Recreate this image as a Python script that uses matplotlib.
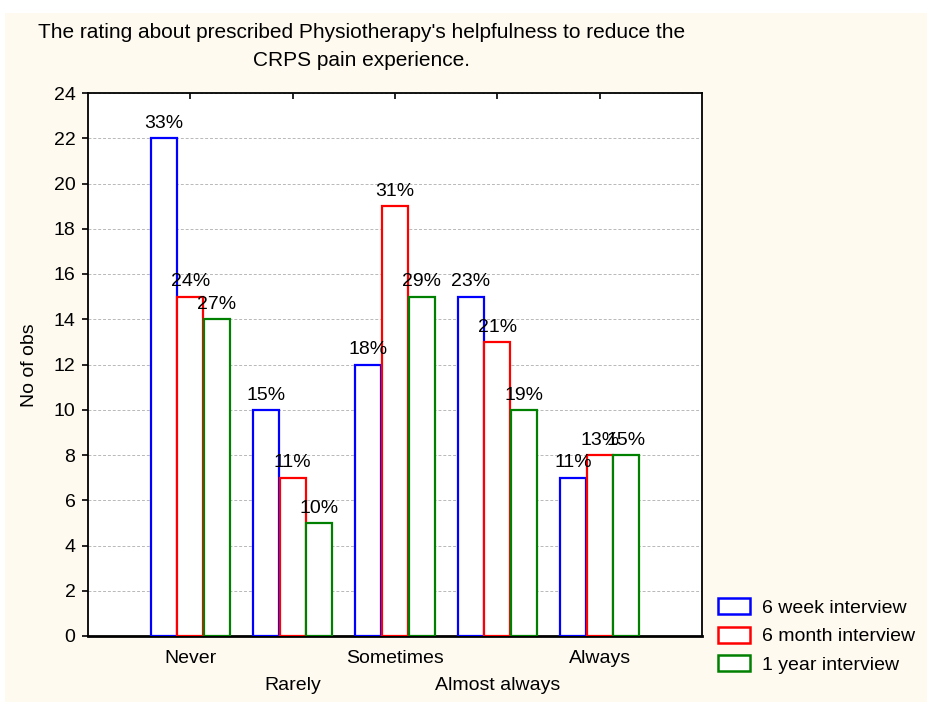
#!/usr/bin/env python3

import numpy as np
import matplotlib
matplotlib.use('Agg')
import matplotlib.pyplot as plt
from matplotlib.patches import Patch, Rectangle

plt.rcParams['font.family'] = ['Liberation Sans', 'DejaVu Sans']

categories = ['Never', 'Rarely', 'Sometimes', 'Almost always', 'Always']
series = ['6 week interview', '6 month interview', '1 year interview']
week6 = [22, 10, 12, 15, 7]
month6 = [15, 7, 19, 13, 8]
year1 = [14, 5, 15, 10, 8]
week6_pct = ['33%', '15%', '18%', '23%', '11%']
month6_pct = ['24%', '11%', '31%', '21%', '13%']
year1_pct = ['27%', '10%', '29%', '19%', '15%']
colors = ['#0000ff', '#ff0000', '#008000']

fs = 14

fig = plt.figure(figsize=(9.28, 7.05), dpi=100)
fig.patch.set_facecolor('white')
# cream panel behind everything
fig.patches.append(Rectangle((5/928, 3/705), 1, 1 - 16/705, transform=fig.transFigure,
                             facecolor='#fefaf0', edgecolor='none', zorder=-10))

ax = fig.add_axes([88/928, 69/705, 614/928, 543/705])
ax.set_facecolor('white')

x = np.arange(len(categories))
w = 0.26
vals = [week6, month6, year1]
pcts = [week6_pct, month6_pct, year1_pct]
for i, (v, p, c) in enumerate(zip(vals, pcts, colors)):
    xs = x + (i - 1) * w
    ax.bar(xs, v, width=w * 0.97, facecolor='white', edgecolor=c, linewidth=1.6, zorder=3)
    for xi, vi, pi in zip(xs, v, p):
        ax.annotate(pi, (xi, vi), xytext=(0, 4.5), textcoords='offset points',
                    ha='center', va='bottom', fontsize=fs, zorder=4)

ax.set_xlim(-1, 5)
ax.set_ylim(0, 24)
ax.set_yticks(np.arange(0, 25, 2))
ax.yaxis.grid(True, linestyle=(0, (3, 2)), color='#b8b8b8', linewidth=0.7, zorder=0)
ax.set_axisbelow(True)

ax.set_xticks(x)
ax.set_xticklabels([])
ax.tick_params(axis='x', direction='in', top=True, bottom=True, length=4, width=1.2)
ax.tick_params(axis='y', direction='out', length=4, width=1.2, labelsize=fs, pad=5)
for s in ['left', 'top', 'right']:
    ax.spines[s].set_linewidth(1.3)
ax.spines['bottom'].set_linewidth(2)

for i, cat in enumerate(categories):
    off = -16.5 if i % 2 == 0 else -35.5
    ax.annotate(cat, (i, 0), xycoords=('data', 'axes fraction'), xytext=(0, off),
                textcoords='offset points', ha='center', va='center', fontsize=fs)

fig.text(30/928, 1 - 365/705, 'No of obs', rotation=90, ha='center', va='center', fontsize=fs)
fig.text(362/928, 1 - 33/705, "The rating about prescribed Physiotherapy's helpfulness to reduce the",
         ha='center', va='center', fontsize=15)
fig.text(362/928, 1 - 60/705, 'CRPS pain experience.', ha='center', va='center', fontsize=15)

handles = [Patch(facecolor='white', edgecolor=c, linewidth=1.8) for c in colors]
fig.legend(handles, series, loc='upper left', bbox_to_anchor=(718/928, 1 - 598/705),
           frameon=False, fontsize=fs, handlelength=1.65, handleheight=0.9,
           handletextpad=0.6, labelspacing=0.5, borderpad=0, borderaxespad=0)

fig.savefig('out.png', dpi=100, facecolor=fig.get_facecolor())
